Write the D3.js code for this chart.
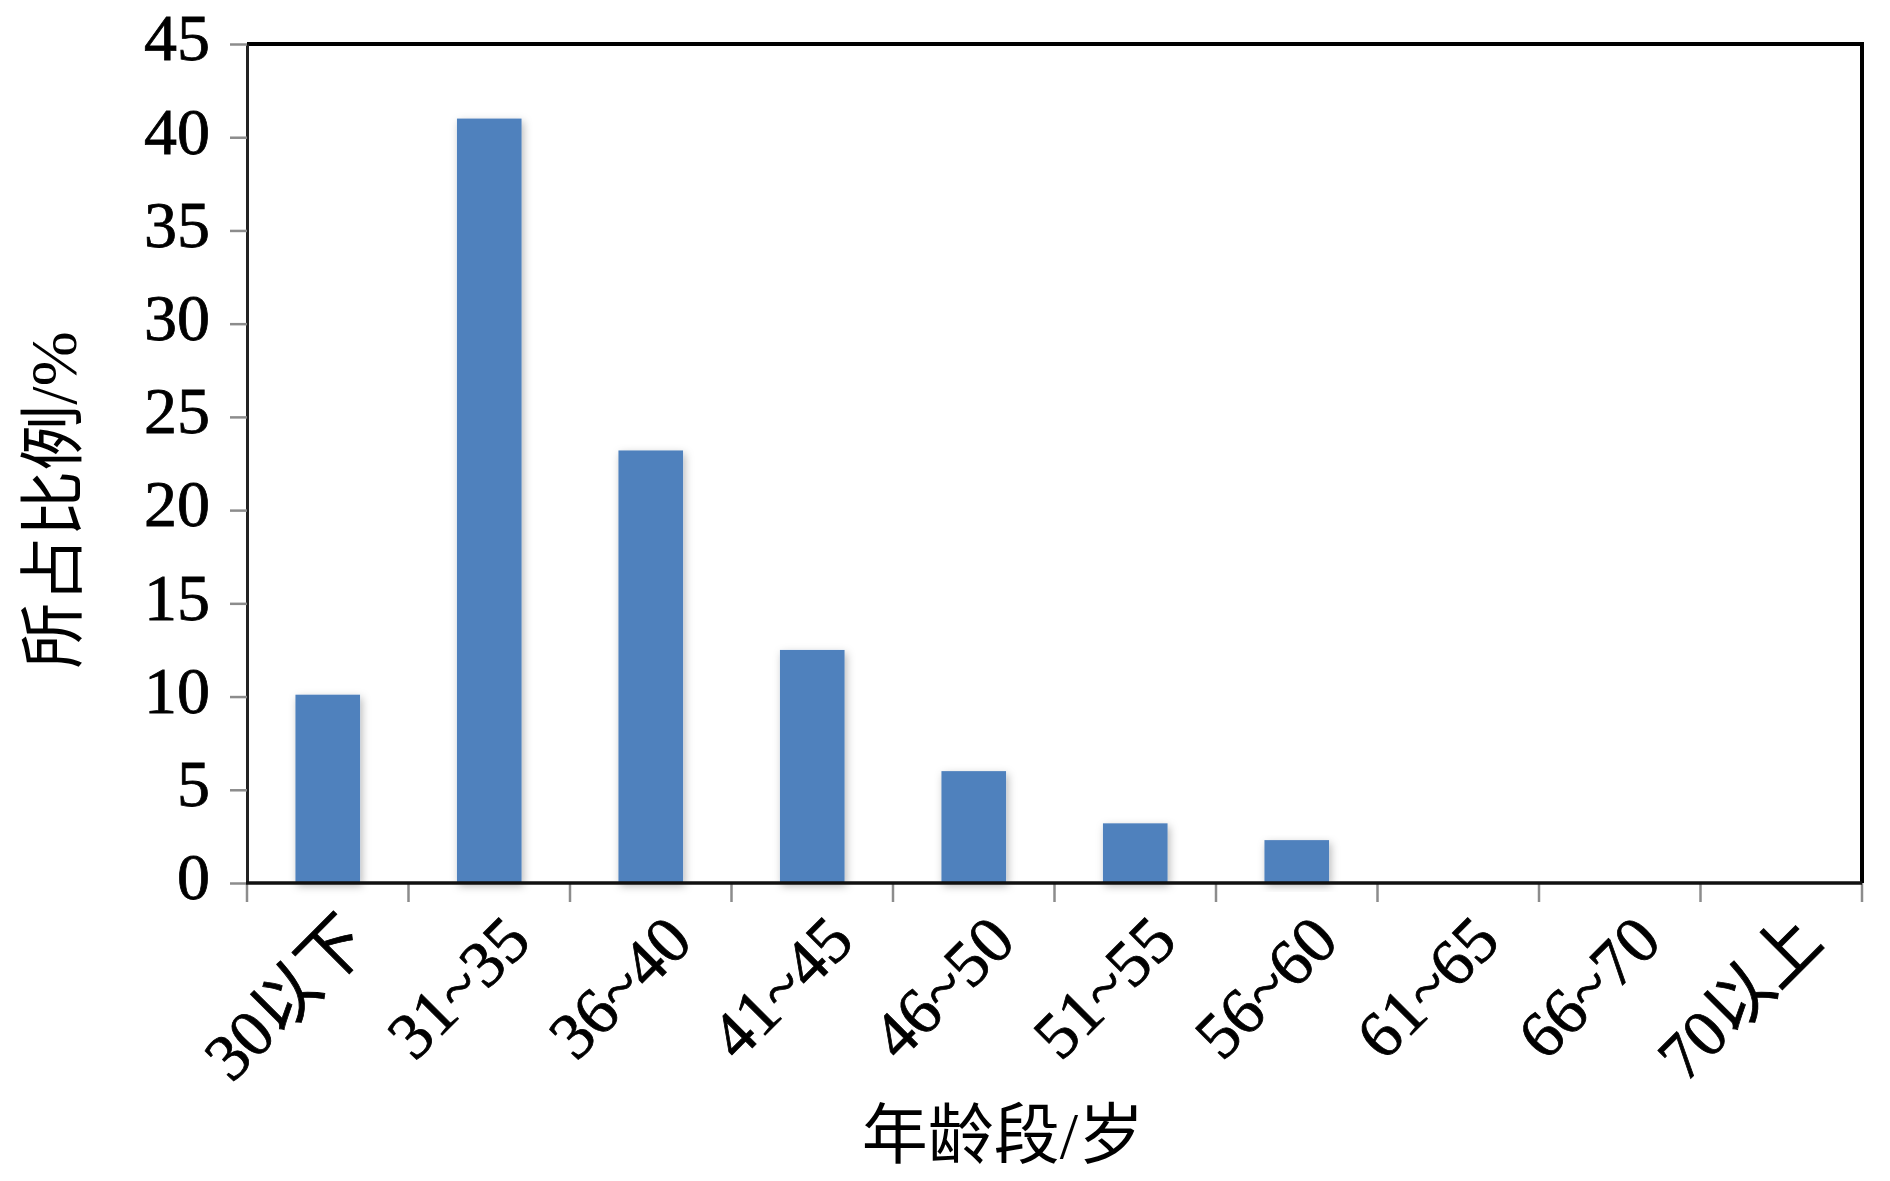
<!DOCTYPE html>
<html>
<head>
<meta charset="utf-8">
<script src="https://cdn.jsdelivr.net/npm/d3@7"></script>
<style>
  html, body { margin: 0; padding: 0; background: #fff; }
  svg { display: block; }
</style>
</head>
<body>
<svg id="chart" width="1890" height="1181"></svg>
<script>
const categories = ["30以下", "31~35", "36~40", "41~45", "46~50", "51~55", "56~60", "61~65", "66~70", "70以上"];
const values = [10.1, 41.0, 23.2, 12.5, 6.0, 3.2, 2.3, 0, 0, 0];
const yTicks = [0, 5, 10, 15, 20, 25, 30, 35, 40, 45];
const xTitle = "年龄段/岁";
const yTitle = "所占比例/%";

const W = 1890, H = 1181;
const plot = { left: 247, right: 1862, top: 44, bottom: 883 };
const FONT = "'Liberation Serif', 'Times New Roman', 'Noto Sans CJK SC', serif";

const svg = d3.select("#chart");

const defs = svg.append("defs");
const f = defs.append("filter").attr("id", "shadow")
  .attr("x", "-30%").attr("y", "-10%").attr("width", "160%").attr("height", "130%");
f.append("feDropShadow").attr("dx", 2).attr("dy", 3).attr("stdDeviation", 4)
  .attr("flood-color", "#000").attr("flood-opacity", 0.28);

const x = d3.scaleBand().domain(categories).range([plot.left, plot.right]).paddingInner(0).paddingOuter(0);
const y = d3.scaleLinear().domain([0, 45]).range([plot.bottom, plot.top]);

// bars
const bw = x.bandwidth() * 0.4;
svg.append("g").selectAll("rect")
  .data(categories.map((c, i) => ({ c, v: values[i] })))
  .join("rect")
  .attr("x", d => x(d.c) + (x.bandwidth() - bw) / 2)
  .attr("width", bw)
  .attr("y", d => y(d.v))
  .attr("height", d => y(0) - y(d.v))
  .attr("fill", "#4F81BD")
  .attr("filter", d => d.v > 0 ? "url(#shadow)" : null);

// top and right border
svg.append("line").attr("x1", plot.left).attr("x2", plot.right).attr("y1", plot.top).attr("y2", plot.top)
  .attr("stroke", "#000").attr("stroke-width", 4);
svg.append("line").attr("x1", plot.right).attr("x2", plot.right).attr("y1", plot.top - 2).attr("y2", plot.bottom)
  .attr("stroke", "#000").attr("stroke-width", 4);

// y axis
const yAxis = d3.axisLeft(y).tickValues(yTicks).tickSize(17).tickPadding(20).tickSizeOuter(0);
const gy = svg.append("g").attr("transform", `translate(${plot.left},0)`).call(yAxis);
gy.select(".domain").attr("stroke", "#222").attr("stroke-width", 3);
gy.selectAll(".tick line").attr("stroke", "#8c8c8c").attr("stroke-width", 2.5);
gy.selectAll(".tick text")
  .attr("font-family", FONT).attr("font-size", 66).attr("fill", "#000")
  .attr("stroke", "#000").attr("stroke-width", 0.8)
  .attr("dy", "0.24em");

// x axis: ticks at category boundaries
const boundaries = categories.map(c => x(c)).concat([plot.right]);
svg.append("g").selectAll("line").data(boundaries).join("line")
  .attr("x1", d => d).attr("x2", d => d)
  .attr("y1", plot.bottom).attr("y2", plot.bottom + 19)
  .attr("stroke", "#8c8c8c").attr("stroke-width", 2.5);
svg.append("line").attr("x1", plot.left - 1).attr("x2", plot.right).attr("y1", plot.bottom).attr("y2", plot.bottom)
  .attr("stroke", "#111").attr("stroke-width", 3.5);

// x labels rotated
svg.append("g").selectAll("text").data(categories).join("text")
  .attr("transform", d => `translate(${x(d) + x.bandwidth() / 2 + 44},${944}) rotate(-45)`)
  .attr("text-anchor", "end")
  .attr("font-family", FONT).attr("font-size", 66).attr("fill", "#000")
  .attr("stroke", "#000").attr("stroke-width", 0.8)
  .text(d => d);

// axis titles
svg.append("text")
  .attr("x", 1003).attr("y", 1158)
  .attr("text-anchor", "middle")
  .attr("font-family", FONT).attr("font-size", 66).attr("fill", "#000")
  .text(xTitle);

svg.append("text")
  .attr("transform", `translate(76,500) rotate(-90)`)
  .attr("text-anchor", "middle")
  .attr("font-family", FONT).attr("font-size", 66).attr("fill", "#000")
  .text(yTitle);
</script>
</body>
</html>
